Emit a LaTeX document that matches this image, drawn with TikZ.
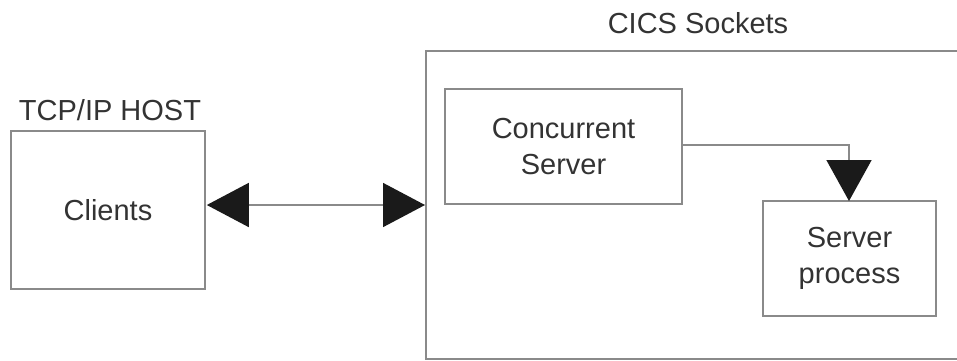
\documentclass[tikz,border=0pt]{standalone}
\usepackage{fontspec}
\setmainfont{Liberation Sans}
\usetikzlibrary{arrows.meta,calc}
\definecolor{linegray}{HTML}{8A8A8A}
\definecolor{textgray}{HTML}{333333}
\definecolor{tipgray}{HTML}{1A1A1A}
\tikzset{
  boxnode/.style={draw=linegray, line width=1.6pt, inner sep=0pt, align=center,
    text=textgray, font=\fontsize{29}{36}\selectfont},
  labelnode/.style={text=textgray, font=\fontsize{29}{36}\selectfont, inner sep=0pt},
  conn/.style={draw=linegray, line width=1.6pt},
}
\begin{document}
\begin{tikzpicture}[x=1pt,y=-1pt]
\useasboundingbox (0,0) rectangle (957,360);
\begin{scope}
\clip (0,0) rectangle (957,360);
\node[draw=linegray, line width=1.6pt, minimum width=560pt, minimum height=308pt, inner sep=0pt, anchor=north west] (cics) at (425,50) {};
\end{scope}
\node[labelnode] (cicslabel) at (698,23) {CICS Sockets};
\node[labelnode] (hostlabel) at (110,110) {TCP/IP HOST};
\node[boxnode, minimum width=194pt, minimum height=158pt] (clients) at (108,210) {Clients};
\node[boxnode, minimum width=237pt, minimum height=115pt] (cs) at (563.5,146.5) {Concurrent\\Server};
\node[boxnode, minimum width=173pt, minimum height=115pt] (sp) at (849.5,258.5) {Server\\process};
\coordinate (csout) at (682,145);
\coordinate (spin) at (849,201);
\draw[conn, {Triangle[length=42pt,width=44pt,color=tipgray,fill=tipgray]}-{Triangle[length=42pt,width=44pt,color=tipgray,fill=tipgray]}, shorten <=1pt] (clients.east |- 0,205) -- (cics.west |- 0,205);
\draw[conn, -{Triangle[length=41pt,width=45pt,color=tipgray,fill=tipgray]}] (csout) -| (spin);
\end{tikzpicture}
\end{document}
